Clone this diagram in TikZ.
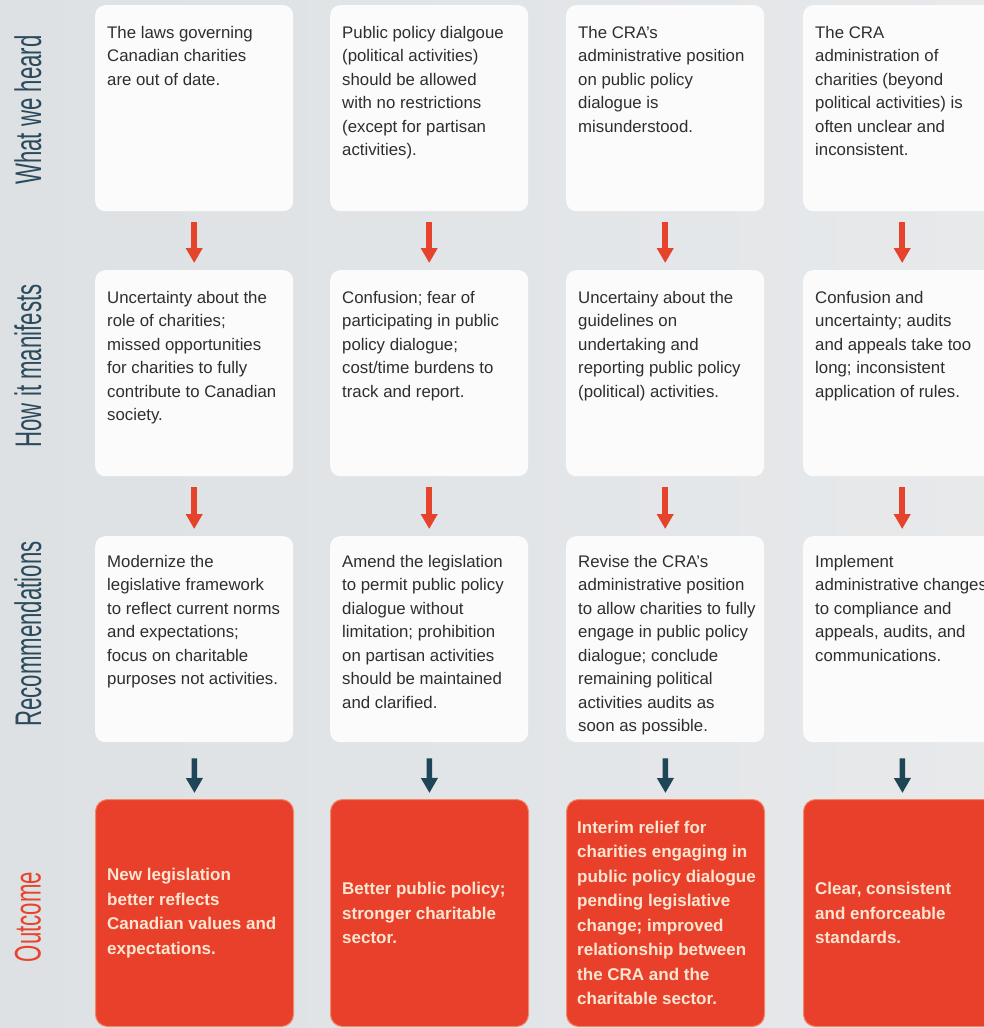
\documentclass[tikz,border=0pt]{standalone}
\usepackage{fontspec}
\setmainfont{Liberation Sans}
\usetikzlibrary{arrows.meta}
\definecolor{bgL}{HTML}{DDE1E4}
\definecolor{bgM}{HTML}{ECEEEF}
\definecolor{bgR}{HTML}{E7E9EB}
\definecolor{boxfill}{HTML}{FBFBFB}
\definecolor{txtgray}{HTML}{2E2E2E}
\definecolor{outred}{HTML}{E8402B}
\definecolor{outedge}{HTML}{F2876A}
\definecolor{outtxt}{HTML}{FCE6D2}
\definecolor{arrred}{HTML}{E5432B}
\definecolor{arrdark}{HTML}{1F4657}
\definecolor{labteal}{HTML}{2B4A5C}
\definecolor{labred}{HTML}{E8432D}
\begin{document}
\begin{tikzpicture}[x=1pt,y=-1pt,
  wbox/.style={fill=boxfill, draw=none, rounded corners=10pt, minimum width=198pt, minimum height=206pt, inner sep=0pt, anchor=north west},
  obox/.style={fill=outred, draw=outedge, line width=1pt, rounded corners=12pt, minimum width=198pt, minimum height=227pt, inner sep=0pt, anchor=north west},
  btxt/.style={anchor=north west, inner sep=0pt, align=left, text=txtgray, font=\fontsize{16.8}{23.5}\selectfont},
  otxt/.style={anchor=west, inner sep=0pt, align=left, text=outtxt, font=\bfseries\fontsize{17}{24.5}\selectfont},
  rarr/.style={draw=arrred, line width=5.5pt, -{Triangle[width=16pt,length=15pt]}, shorten <=11pt, shorten >=7pt},
  darr/.style={draw=arrdark, line width=5.5pt, -{Triangle[width=16pt,length=15pt]}, shorten <=16pt, shorten >=6pt},
  rowlab/.style={rotate=90, inner sep=0pt, text=labteal},
]
\useasboundingbox (0,0) rectangle (984,1028);
\clip (0,0) rectangle (984,1028);
\fill[left color=bgL, middle color=bgM, right color=bgR] (0,0) rectangle (984,1028);

% row labels
\node[rowlab] (l1) at (28,110) {\scalebox{0.6}[1]{\fontsize{37}{37}\selectfont What we heard}};
\node[rowlab] (l2) at (28,366) {\scalebox{0.6}[1]{\fontsize{37}{37}\selectfont How it manifests}};
\node[rowlab] (l3) at (28,634) {\scalebox{0.6}[1]{\fontsize{37}{37}\selectfont Recommendations}};
\node[rowlab, text=labred] (l4) at (28,917) {\scalebox{0.6}[1]{\fontsize{37}{37}\selectfont Outcome}};

% row 1
\node[wbox] (w1) at (95,5) {};
\node[wbox] (w2) at (330,5) {};
\node[wbox] (w3) at (566,5) {};
\node[wbox] (w4) at (803,5) {};
\node[btxt] (w1t) at (107,26) {The laws governing\\Canadian charities\\are out of date.};
\node[btxt] (w2t) at (342,26) {Public policy dialgoue\\(political activities)\\should be allowed\\with no restrictions\\(except for partisan\\activities).};
\node[btxt] (w3t) at (578,26) {The CRA's\\administrative position\\on public policy\\dialogue is\\misunderstood.};
\node[btxt] (w4t) at (815,26) {The CRA\\administration of\\charities (beyond\\political activities) is\\often unclear and\\inconsistent.};

% row 2
\node[wbox] (h1) at (95,270) {};
\node[wbox] (h2) at (330,270) {};
\node[wbox] (h3) at (566,270) {};
\node[wbox] (h4) at (803,270) {};
\node[btxt] (h1t) at (107,291) {Uncertainty about the\\role of charities;\\missed opportunities\\for charities to fully\\contribute to Canadian\\society.};
\node[btxt] (h2t) at (342,291) {Confusion; fear of\\participating in public\\policy dialogue;\\cost/time burdens to\\track and report.};
\node[btxt] (h3t) at (578,291) {Uncertainy about the\\guidelines on\\undertaking and\\reporting public policy\\(political) activities.};
\node[btxt] (h4t) at (815,291) {Confusion and\\uncertainty; audits\\and appeals take too\\long; inconsistent\\application of rules.};

% row 3
\node[wbox] (r1) at (95,536) {};
\node[wbox] (r2) at (330,536) {};
\node[wbox] (r3) at (566,536) {};
\node[wbox] (r4) at (803,536) {};
\node[btxt] (r1t) at (107,555) {Modernize the\\legislative framework\\to reflect current norms\\and expectations;\\focus on charitable\\purposes not activities.};
\node[btxt] (r2t) at (342,555) {Amend the legislation\\to permit public policy\\dialogue without\\limitation; prohibition\\on partisan activities\\should be maintained\\and clarified.};
\node[btxt] (r3t) at (578,555) {Revise the CRA's\\administrative position\\to allow charities to fully\\engage in public policy\\dialogue; conclude\\remaining political\\activities audits as\\soon as possible.};
\node[btxt] (r4t) at (815,555) {Implement\\administrative changes\\to compliance and\\appeals, audits, and\\communications.};

% row 4
\node[obox] (o1) at (95,799) {};
\node[obox] (o2) at (330,799) {};
\node[obox] (o3) at (566,799) {};
\node[obox] (o4) at (803,799) {};
\node[otxt] (o1t) at ([xshift=12pt]o1.west) {New legislation\\better reflects\\Canadian values and\\expectations.};
\node[otxt] (o2t) at ([xshift=12pt]o2.west) {Better public policy;\\stronger charitable\\sector.};
\node[otxt] (o3t) at ([xshift=11pt]o3.west) {Interim relief for\\charities engaging in\\public policy dialogue\\pending legislative\\change; improved\\relationship between\\the CRA and the\\charitable sector.};
\node[otxt] (o4t) at ([xshift=12pt]o4.west) {Clear, consistent\\and enforceable\\standards.};

% arrows
\foreach \c in {1,2,3,4}{
  \draw[rarr] (w\c.south) -- (h\c.north);
  \draw[rarr] (h\c.south) -- (r\c.north);
  \draw[darr] (r\c.south) -- (o\c.north);
}
\end{tikzpicture}
\end{document}
